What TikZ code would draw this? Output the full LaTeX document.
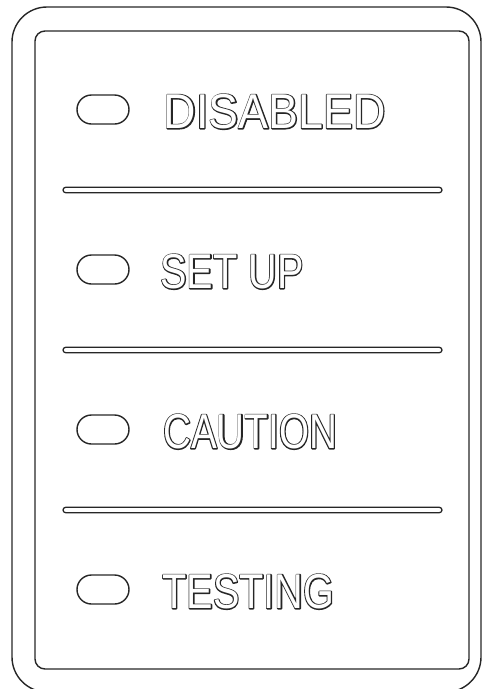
\documentclass[tikz,border=0pt]{standalone}
\usepackage{fontspec}
\setmainfont{Liberation Sans}
\newfontfamily\fa[FakeStretch=0.917]{Liberation Sans}
\newfontfamily\fb[FakeStretch=0.81]{Liberation Sans}
\newfontfamily\fc[FakeStretch=0.79]{Liberation Sans}
\newfontfamily\fd[FakeStretch=0.81]{Liberation Sans}
\newfontfamily\fab[FakeStretch=0.917,FakeBold=4.5]{Liberation Sans}
\newfontfamily\fbb[FakeStretch=0.81,FakeBold=4.5]{Liberation Sans}
\newfontfamily\fcb[FakeStretch=0.79,FakeBold=4.5]{Liberation Sans}
\newfontfamily\fdb[FakeStretch=0.81,FakeBold=4.5]{Liberation Sans}
\begin{document}
\begin{tikzpicture}[x=1pt,y=-1pt,line join=round]
\tikzset{
  frame/.style={draw=black!85,line width=1.4pt},
  led/.style={draw=black!85,line width=1.4pt,rounded corners=14.5pt,minimum width=52pt,minimum height=29pt,inner sep=0pt},
  sepline/.style={draw=black!85,line width=1.3pt,rounded corners=2.7pt},
  lblout/.style={anchor=base west,inner sep=0pt,text=black!85},
  lblin/.style={anchor=base west,inner sep=0pt,text=white}
}
\useasboundingbox (0,0) rectangle (482,689);
\draw[frame,rounded corners=35pt] (12,7) rectangle (481,692);
\draw[frame,rounded corners=10pt] (35,31) rectangle (469,669);
\foreach \i in {0,1,2,3}{
  \node (led\i) [led] at (103,109.5+160*\i) {};
}
\node (lbl0o) [lblout,font=\fab\fontsize{48.9}{50}\selectfont] at (163.6,128.5) {DISABLED};
\node (lbl0)  [lblin, font=\fa\fontsize{48.9}{50}\selectfont]  at (163.6,128.5) {DISABLED};
\node (lbl1o) [lblout,font=\fbb\fontsize{48.9}{50}\selectfont] at (160.2,288.5) {SET UP};
\node (lbl1)  [lblin, font=\fb\fontsize{48.9}{50}\selectfont]  at (160.2,288.5) {SET UP};
\node (lbl2o) [lblout,font=\fcb\fontsize{48.9}{50}\selectfont] at (163,448.5) {CAUTION};
\node (lbl2)  [lblin, font=\fc\fontsize{48.9}{50}\selectfont]  at (163,448.5) {CAUTION};
\node (lbl3o) [lblout,font=\fdb\fontsize{48.9}{50}\selectfont] at (162.2,608.5) {TESTING};
\node (lbl3)  [lblin, font=\fd\fontsize{48.9}{50}\selectfont]  at (162.2,608.5) {TESTING};
\foreach \i in {0,1,2}{
  \draw[sepline] (63,187.3+160*\i) rectangle (442,192.7+160*\i);
}
\end{tikzpicture}
\end{document}
